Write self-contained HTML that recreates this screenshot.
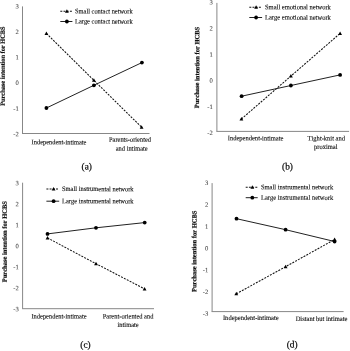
<!DOCTYPE html>
<html><head><meta charset="utf-8"><style>
html,body{margin:0;padding:0;background:#fff;}
svg{display:block;will-change:transform;}
text{font-family:"Liberation Serif",serif;text-rendering:geometricPrecision;font-kerning:none;}
</style></head><body>
<svg width="350" height="351" viewBox="0 0 350 351">
<rect width="350" height="351" fill="#fff"/>
<path d="M22.5,6.4V133.5M22.0,133.5H149.5" stroke="#878787" stroke-width="1" fill="none"/>
<text transform="translate(18.70,136.17) rotate(0.1)" font-size="6.6" text-anchor="end" fill="#444" stroke="#444" stroke-width="0.06">-2</text>
<text transform="translate(18.70,110.64) rotate(0.1)" font-size="6.6" text-anchor="end" fill="#444" stroke="#444" stroke-width="0.06">-1</text>
<text transform="translate(18.70,85.11) rotate(0.1)" font-size="6.6" text-anchor="end" fill="#444" stroke="#444" stroke-width="0.06">0</text>
<text transform="translate(18.70,59.58) rotate(0.1)" font-size="6.6" text-anchor="end" fill="#444" stroke="#444" stroke-width="0.06">1</text>
<text transform="translate(18.70,34.05) rotate(0.1)" font-size="6.6" text-anchor="end" fill="#444" stroke="#444" stroke-width="0.06">2</text>
<text transform="translate(18.70,8.52) rotate(0.1)" font-size="6.6" text-anchor="end" fill="#444" stroke="#444" stroke-width="0.06">3</text>
<g fill="none" stroke="#111" stroke-width="1.05" stroke-dasharray="2.0,1.2"><polyline points="46.4,33.4 93.9,80.3 141.6,127.2"/><path d="M60.3,11.3H72.4"/></g>
<g fill="none" stroke="#222" stroke-width="1.0"><polyline points="46.4,108.0 93.9,85.3 141.9,62.6"/><path d="M60.3,21.5H72.4"/></g>
<g fill="#000"><path d="M46.40,31.40L48.30,34.90L44.50,34.90Z"/><path d="M93.90,78.30L95.80,81.80L92.00,81.80Z"/><path d="M141.60,125.20L143.50,128.70L139.70,128.70Z"/><path d="M66.90,9.30L68.80,12.80L65.00,12.80Z"/><circle cx="46.40" cy="108.00" r="1.9"/><circle cx="93.90" cy="85.30" r="1.9"/><circle cx="141.90" cy="62.60" r="1.9"/><circle cx="66.90" cy="21.50" r="1.9"/></g>
<text transform="translate(75.00,13.37) rotate(0.1) scale(0.93,1)" font-size="6.9" fill="#111" stroke="#111" stroke-width="0.12">Small contact network</text>
<text transform="translate(75.00,23.57) rotate(0.1) scale(0.93,1)" font-size="6.9" fill="#111" stroke="#111" stroke-width="0.12">Large contact network</text>
<text transform="translate(59.00,144.37) rotate(0.1) scale(0.93,1)" font-size="6.9" text-anchor="middle" fill="#111" stroke="#111" stroke-width="0.12">Independent-intimate</text>
<text transform="translate(130.00,141.67) rotate(0.1) scale(0.93,1)" font-size="6.9" text-anchor="middle" fill="#111" stroke="#111" stroke-width="0.12">Parents-oriented</text>
<text transform="translate(131.70,150.67) rotate(0.1) scale(0.93,1)" font-size="6.9" text-anchor="middle" fill="#111" stroke="#111" stroke-width="0.12">and intimate</text>
<text transform="translate(4.70,66.20) rotate(-89.9)" font-size="6.33" font-weight="bold" text-anchor="middle" fill="#111" stroke="#111" stroke-width="0.2">Purchase intention for HCBS</text>
<text transform="translate(86.70,169.47) rotate(0.1) scale(0.97,1)" font-size="9.6" text-anchor="middle" fill="#000" stroke="#000" stroke-width="0.2">(a)</text>
<path d="M216.9,2.9V131.4M216.4,131.4H349.1" stroke="#878787" stroke-width="1" fill="none"/>
<text transform="translate(212.80,135.03) rotate(0.1)" font-size="6.6" text-anchor="end" fill="#444" stroke="#444" stroke-width="0.06">-2</text>
<text transform="translate(212.80,108.93) rotate(0.1)" font-size="6.6" text-anchor="end" fill="#444" stroke="#444" stroke-width="0.06">-1</text>
<text transform="translate(212.80,82.83) rotate(0.1)" font-size="6.6" text-anchor="end" fill="#444" stroke="#444" stroke-width="0.06">0</text>
<text transform="translate(212.80,56.73) rotate(0.1)" font-size="6.6" text-anchor="end" fill="#444" stroke="#444" stroke-width="0.06">1</text>
<text transform="translate(212.80,30.63) rotate(0.1)" font-size="6.6" text-anchor="end" fill="#444" stroke="#444" stroke-width="0.06">2</text>
<text transform="translate(212.80,4.53) rotate(0.1)" font-size="6.6" text-anchor="end" fill="#444" stroke="#444" stroke-width="0.06">3</text>
<g fill="none" stroke="#111" stroke-width="1.05" stroke-dasharray="2.0,1.2"><polyline points="241.4,119.0 290.9,76.1 340.1,33.4"/><path d="M249.3,7.2H262.1"/></g>
<g fill="none" stroke="#222" stroke-width="1.0"><polyline points="241.6,96.2 290.9,85.5 340.1,74.9"/><path d="M249.3,17.5H262.1"/></g>
<g fill="#000"><path d="M241.40,117.00L243.30,120.50L239.50,120.50Z"/><path d="M290.90,74.10L292.80,77.60L289.00,77.60Z"/><path d="M340.10,31.40L342.00,34.90L338.20,34.90Z"/><path d="M256.10,5.20L258.00,8.70L254.20,8.70Z"/><circle cx="241.60" cy="96.20" r="1.9"/><circle cx="290.90" cy="85.50" r="1.9"/><circle cx="340.10" cy="74.90" r="1.9"/><circle cx="256.10" cy="17.50" r="1.9"/></g>
<text transform="translate(265.00,9.27) rotate(0.1) scale(0.945,1)" font-size="6.9" fill="#111" stroke="#111" stroke-width="0.12">Small emotional network</text>
<text transform="translate(265.00,19.57) rotate(0.1) scale(0.945,1)" font-size="6.9" fill="#111" stroke="#111" stroke-width="0.12">Large emotional network</text>
<text transform="translate(255.60,140.37) rotate(0.1) scale(0.945,1)" font-size="6.9" text-anchor="middle" fill="#111" stroke="#111" stroke-width="0.12">Independent-intimate</text>
<text transform="translate(326.30,140.47) rotate(0.1) scale(0.945,1)" font-size="6.9" text-anchor="middle" fill="#111" stroke="#111" stroke-width="0.12">Tight-knit and</text>
<text transform="translate(325.80,148.97) rotate(0.1) scale(0.945,1)" font-size="6.9" text-anchor="middle" fill="#111" stroke="#111" stroke-width="0.12">proximal</text>
<text transform="translate(199.15,67.50) rotate(-89.9)" font-size="6.5" font-weight="bold" text-anchor="middle" fill="#111" stroke="#111" stroke-width="0.2">Purchase intention for HCBS</text>
<text transform="translate(287.50,169.47) rotate(0.1) scale(0.97,1)" font-size="9.6" text-anchor="middle" fill="#000" stroke="#000" stroke-width="0.2">(b)</text>
<path d="M22.6,182.7V308.7M22.1,308.7H154.0" stroke="#878787" stroke-width="1" fill="none"/>
<text transform="translate(18.80,311.23) rotate(0.1)" font-size="6.6" text-anchor="end" fill="#444" stroke="#444" stroke-width="0.06">-3</text>
<text transform="translate(18.80,290.25) rotate(0.1)" font-size="6.6" text-anchor="end" fill="#444" stroke="#444" stroke-width="0.06">-2</text>
<text transform="translate(18.80,269.27) rotate(0.1)" font-size="6.6" text-anchor="end" fill="#444" stroke="#444" stroke-width="0.06">-1</text>
<text transform="translate(18.80,248.29) rotate(0.1)" font-size="6.6" text-anchor="end" fill="#444" stroke="#444" stroke-width="0.06">0</text>
<text transform="translate(18.80,227.31) rotate(0.1)" font-size="6.6" text-anchor="end" fill="#444" stroke="#444" stroke-width="0.06">1</text>
<text transform="translate(18.80,206.33) rotate(0.1)" font-size="6.6" text-anchor="end" fill="#444" stroke="#444" stroke-width="0.06">2</text>
<text transform="translate(18.80,185.35) rotate(0.1)" font-size="6.6" text-anchor="end" fill="#444" stroke="#444" stroke-width="0.06">3</text>
<g fill="none" stroke="#111" stroke-width="1.05" stroke-dasharray="2.0,1.2"><polyline points="47.5,237.9 96.0,263.7 144.6,288.9"/><path d="M46.4,189.0H59.2"/></g>
<g fill="none" stroke="#222" stroke-width="1.0"><polyline points="47.5,233.9 96.0,227.8 144.7,222.6"/><path d="M46.4,201.2H59.2"/></g>
<g fill="#000"><path d="M47.50,235.90L49.40,239.40L45.60,239.40Z"/><path d="M96.00,261.70L97.90,265.20L94.10,265.20Z"/><path d="M144.60,286.90L146.50,290.40L142.70,290.40Z"/><path d="M53.60,187.00L55.50,190.50L51.70,190.50Z"/><circle cx="47.50" cy="233.90" r="1.9"/><circle cx="96.00" cy="227.80" r="1.9"/><circle cx="144.70" cy="222.60" r="1.9"/><circle cx="53.60" cy="201.20" r="1.9"/></g>
<text transform="translate(62.00,191.07) rotate(0.1) scale(0.935,1)" font-size="6.9" fill="#111" stroke="#111" stroke-width="0.12">Small instrumental network</text>
<text transform="translate(62.00,203.27) rotate(0.1) scale(0.935,1)" font-size="6.9" fill="#111" stroke="#111" stroke-width="0.12">Large instrumental network</text>
<text transform="translate(59.00,318.47) rotate(0.1) scale(0.935,1)" font-size="6.9" text-anchor="middle" fill="#111" stroke="#111" stroke-width="0.12">Independent-intimate</text>
<text transform="translate(128.10,318.57) rotate(0.1) scale(0.935,1)" font-size="6.9" text-anchor="middle" fill="#111" stroke="#111" stroke-width="0.12">Parent-oriented and</text>
<text transform="translate(128.10,327.07) rotate(0.1) scale(0.935,1)" font-size="6.9" text-anchor="middle" fill="#111" stroke="#111" stroke-width="0.12">intimate</text>
<text transform="translate(6.74,241.70) rotate(-89.9)" font-size="6.47" font-weight="bold" text-anchor="middle" fill="#111" stroke="#111" stroke-width="0.2">Purchase intention for HCBS</text>
<text transform="translate(85.50,347.67) rotate(0.1) scale(0.97,1)" font-size="9.6" text-anchor="middle" fill="#000" stroke="#000" stroke-width="0.2">(c)</text>
<path d="M212.1,183.1V311.6M211.6,311.6H343.6" stroke="#878787" stroke-width="1" fill="none"/>
<text transform="translate(208.30,315.68) rotate(0.1)" font-size="6.6" text-anchor="end" fill="#444" stroke="#444" stroke-width="0.06">-3</text>
<text transform="translate(208.30,293.92) rotate(0.1)" font-size="6.6" text-anchor="end" fill="#444" stroke="#444" stroke-width="0.06">-2</text>
<text transform="translate(208.30,272.16) rotate(0.1)" font-size="6.6" text-anchor="end" fill="#444" stroke="#444" stroke-width="0.06">-1</text>
<text transform="translate(208.30,250.40) rotate(0.1)" font-size="6.6" text-anchor="end" fill="#444" stroke="#444" stroke-width="0.06">0</text>
<text transform="translate(208.30,228.64) rotate(0.1)" font-size="6.6" text-anchor="end" fill="#444" stroke="#444" stroke-width="0.06">1</text>
<text transform="translate(208.30,206.88) rotate(0.1)" font-size="6.6" text-anchor="end" fill="#444" stroke="#444" stroke-width="0.06">2</text>
<text transform="translate(208.30,185.12) rotate(0.1)" font-size="6.6" text-anchor="end" fill="#444" stroke="#444" stroke-width="0.06">3</text>
<g fill="none" stroke="#111" stroke-width="1.05" stroke-dasharray="2.0,1.2"><polyline points="236.3,293.8 285.6,266.7 334.6,239.5"/><path d="M245.7,187.2H257.7"/></g>
<g fill="none" stroke="#222" stroke-width="1.0"><polyline points="236.5,218.7 285.6,229.7 334.6,241.5"/><path d="M245.7,197.7H257.7"/></g>
<g fill="#000"><path d="M236.30,291.80L238.20,295.30L234.40,295.30Z"/><path d="M285.60,264.70L287.50,268.20L283.70,268.20Z"/><path d="M334.60,237.50L336.50,241.00L332.70,241.00Z"/><path d="M252.30,185.20L254.20,188.70L250.40,188.70Z"/><circle cx="236.50" cy="218.70" r="1.9"/><circle cx="285.60" cy="229.70" r="1.9"/><circle cx="334.60" cy="241.50" r="1.9"/><circle cx="252.30" cy="197.70" r="1.9"/></g>
<text transform="translate(260.90,189.27) rotate(0.1) scale(0.945,1)" font-size="6.9" fill="#111" stroke="#111" stroke-width="0.12">Small instrumental network</text>
<text transform="translate(260.90,199.77) rotate(0.1) scale(0.945,1)" font-size="6.9" fill="#111" stroke="#111" stroke-width="0.12">Large instrumental network</text>
<text transform="translate(250.80,320.07) rotate(0.1) scale(0.945,1)" font-size="6.9" text-anchor="middle" fill="#111" stroke="#111" stroke-width="0.12">Independent-intimate</text>
<text transform="translate(321.50,321.07) rotate(0.1) scale(0.945,1)" font-size="6.9" text-anchor="middle" fill="#111" stroke="#111" stroke-width="0.12">Distant but intimate</text>
<text transform="translate(196.35,251.30) rotate(-89.9)" font-size="6.5" font-weight="bold" text-anchor="middle" fill="#111" stroke="#111" stroke-width="0.2">Purchase intention for HCBS</text>
<text transform="translate(292.20,347.57) rotate(0.1) scale(0.97,1)" font-size="9.6" text-anchor="middle" fill="#000" stroke="#000" stroke-width="0.2">(d)</text>
</svg>
</body></html>
